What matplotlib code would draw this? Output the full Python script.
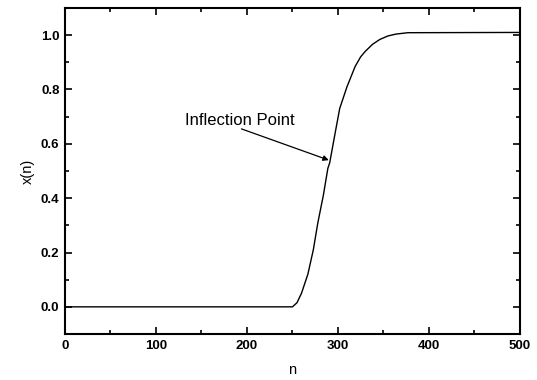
import matplotlib
matplotlib.use("Agg")
import matplotlib.pyplot as plt
from matplotlib.ticker import MultipleLocator

plt.rcParams["font.family"] = ["Liberation Sans", "DejaVu Sans"]

# curve
n_vals = [0, 250, 255, 260, 267, 273, 278, 284, 289, 291, 297, 302, 310, 319, 325,
          330, 338, 346, 355, 364, 377, 500]
x_vals = [0.0, 0.0, 0.015, 0.05, 0.12, 0.21, 0.31, 0.41, 0.51, 0.53, 0.64, 0.73, 0.81,
          0.885, 0.92, 0.94, 0.966, 0.984, 0.997, 1.004, 1.009, 1.01]

x_ticks = [0, 100, 200, 300, 400, 500]
y_ticks = [0.0, 0.2, 0.4, 0.6, 0.8, 1.0]

fig = plt.figure(figsize=(5.37, 3.80), dpi=100)
ax = fig.add_axes([0.121, 0.121, 0.847, 0.858])

ax.plot(n_vals, x_vals, color="black", linewidth=1.0)

ax.annotate(
    "",
    xy=(290, 0.54),
    xytext=(194, 0.655),
    arrowprops=dict(arrowstyle="-|>", color="black", lw=0.9, mutation_scale=8, shrinkA=0, shrinkB=0),
)
ax.text(132, 0.668, "Inflection Point", fontsize=12, ha="left", va="baseline")

ax.set_xlim(0, 500)
ax.set_ylim(-0.1, 1.1)
ax.set_xticks(x_ticks)
ax.set_yticks(y_ticks)
ax.set_yticklabels([f"{v:.1f}" for v in y_ticks])
ax.xaxis.set_minor_locator(MultipleLocator(50))
ax.yaxis.set_minor_locator(MultipleLocator(0.1))
ax.tick_params(which="both", direction="in", top=True, right=True, width=1.2)
ax.tick_params(which="major", length=5, labelsize=9.5, pad=4)
ax.tick_params(which="minor", length=3)
for lab in ax.get_xticklabels() + ax.get_yticklabels():
    lab.set_fontweight("bold")
for sp in ax.spines.values():
    sp.set_linewidth(1.5)

ax.set_xlabel("n", fontsize=10.5, labelpad=8)
ax.set_ylabel("x(n)", fontsize=10.5, labelpad=4)

fig.savefig("out.png", dpi=100)
